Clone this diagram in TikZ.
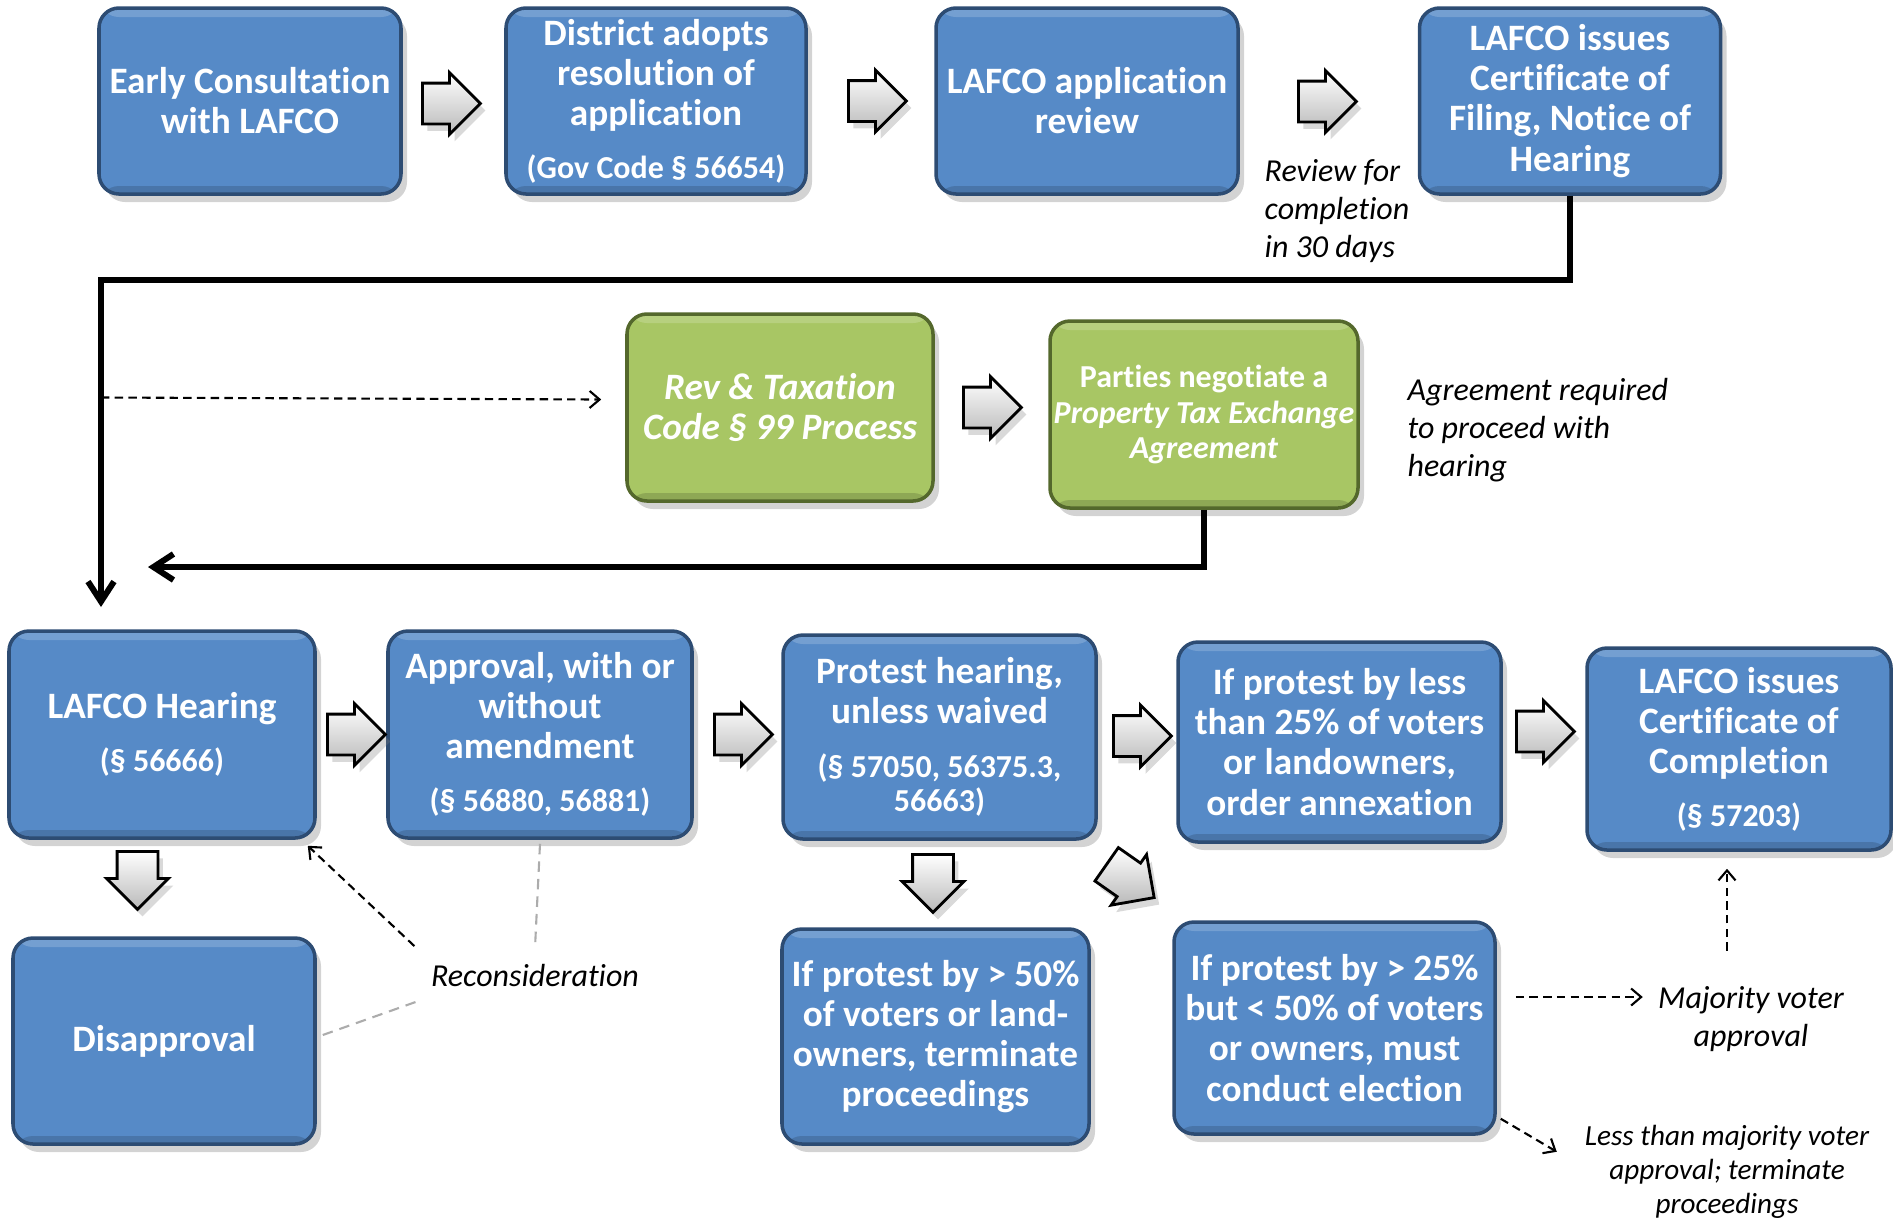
\documentclass[tikz,border=0pt]{standalone}
\usepackage{fontspec}
\setmainfont{Carlito}[Ligatures=NoCommon]
\usetikzlibrary{shapes.arrows, arrows.meta, positioning, calc, shadows}

\definecolor{boxblue}{RGB}{86,138,199}
\definecolor{boxedge}{RGB}{45,76,115}
\definecolor{boxgreen}{RGB}{168,198,100}
\definecolor{greenedge}{RGB}{84,104,44}

\newcommand{\secref}[1]{{\fontsize{9.1}{11.4}\selectfont #1}}

\begin{document}
\begin{tikzpicture}[
    state/.style={rectangle, draw=boxedge, line width=1pt, fill=boxblue, text=white, align=center, rounded corners=0.2cm, minimum width=3.02cm, minimum height=1.86cm, inner sep=1pt, font=\bfseries\fontsize{10.6}{11.4}\selectfont, drop shadow={opacity=0.35, shadow xshift=0.6mm, shadow yshift=-0.8mm},
        path picture={\fill[white, opacity=0.18] ([yshift=-0.09cm]path picture bounding box.north west) rectangle (path picture bounding box.north east);
                      \fill[black, opacity=0.15] (path picture bounding box.south west) rectangle ([yshift=0.08cm]path picture bounding box.south east);}},
    taxstate/.style={state, draw=greenedge, fill=boxgreen, minimum width=3.07cm, minimum height=1.87cm},
    blockarrow/.style={single arrow, anchor=tail, draw=black, line width=0.8pt, top color=white, bottom color=gray!55, minimum height=0.58cm, minimum width=1pt, single arrow head extend=0.105cm, inner xsep=0pt, inner ysep=0.19cm, drop shadow={opacity=0.3, shadow xshift=0.5mm, shadow yshift=-0.7mm}},
    flow/.style={line width=1.7pt, -{Straight Barb[length=0.2cm, width=0.26cm]}},
    dasharrow/.style={line width=0.6pt, dash pattern=on 2.4pt off 1.5pt, -{Straight Barb[length=0.1cm, width=0.17cm]}},
    graydash/.style={line width=0.6pt, gray!65, dash pattern=on 3pt off 2pt},
    note/.style={font=\itshape\fontsize{9.1}{10.8}\selectfont, align=left, inner sep=0pt}
]
\useasboundingbox (0,0) rectangle (18.93,-12.20);

% States
\node[state] (early_consult) at (2.50,-1.01) {Early Consultation\\with LAFCO};
\node[state, minimum width=3.00cm] (district_res) at (6.56,-1.01) {District adopts\\resolution of\\application\\[0.13cm]\secref{(Gov Code § 56654)}};
\node[state] (app_review) at (10.87,-1.01) {LAFCO application\\review};
\node[state, minimum width=3.01cm] (cert_filing) at (15.70,-1.01) {LAFCO issues\\Certificate of\\Filing, Notice of\\Hearing};

\node[taxstate, minimum width=3.06cm, font=\bfseries\itshape\fontsize{10.6}{11.4}\selectfont] (rev_tax) at (7.80,-4.075) {Rev \& Taxation\\Code § 99 Process};
\node[taxstate, minimum width=3.08cm, font=\bfseries\fontsize{9.1}{10}\selectfont] (tax_agree) at (12.04,-4.145) {Parties negotiate a\\\textit{Property Tax Exchange}\\\textit{Agreement}};

\node[state, minimum width=3.06cm, minimum height=2.07cm] (hearing) at (1.62,-7.345) {LAFCO Hearing\\[0.13cm]\secref{(§ 56666)}};
\node[state, minimum width=3.04cm, minimum height=2.07cm] (approval) at (5.40,-7.345) {Approval, with or\\without\\amendment\\[0.13cm]\secref{(§ 56880, 56881)}};
\node[state, minimum width=3.13cm, minimum height=2.04cm] (protest) at (9.395,-7.37) {Protest hearing,\\unless waived\\[0.14cm]\secref{(§ 57050, 56375.3,}\\[-0.06cm]\secref{56663)}};
\node[state, minimum width=3.23cm, minimum height=2.00cm] (order_annex) at (13.395,-7.42) {If protest by less\\than 25\% of voters\\or landowners,\\order annexation};
\node[state, minimum width=3.04cm, minimum height=2.02cm] (cert_complete) at (17.39,-7.49) {LAFCO issues\\Certificate of\\Completion\\[0.13cm]\secref{(§ 57203)}};

\node[state, minimum width=3.02cm, minimum height=2.06cm] (disapproval) at (1.64,-10.41) {Disapproval};
\node[state, minimum width=3.07cm, minimum height=2.15cm] (terminate) at (9.355,-10.365) {If protest by > 50\%\\of voters or land-\\owners, terminate\\proceedings};
\node[state, minimum width=3.21cm, minimum height=2.12cm] (election) at (13.345,-10.28) {If protest by > 25\%\\but < 50\% of voters\\or owners, must\\conduct election};

% Notes
\node[note, anchor=west] (review_note) at (12.64,-2.11) {Review for\\completion\\in 30 days};
\node[note, anchor=west] (agree_note) at (14.07,-4.30) {Agreement required\\to proceed with\\hearing};
\node[note] (recon_note) at (5.35,-9.75) {Reconsideration};
\node[note, align=center] (majority_note) at (17.51,-10.19) {Majority voter\\approval};
\node[note, align=center, font=\itshape\fontsize{8.3}{9.7}\selectfont] (less_note) at (17.27,-11.72) {Less than majority voter\\approval; terminate\\proceedings};

% Block arrows
\node[blockarrow] (arr_a) at (4.21,-1.035) {};
\node[blockarrow] (arr_b) at (8.47,-1.01) {};
\node[blockarrow] (arr_c) at (12.97,-1.015) {};
\node[blockarrow] (arr_d) at (9.62,-4.075) {};
\node[blockarrow] (arr_e) at (3.26,-7.345) {};
\node[blockarrow] (arr_f) at (7.13,-7.345) {};
\node[blockarrow] (arr_g) at (11.12,-7.36) {};
\node[blockarrow] (arr_h) at (15.15,-7.315) {};
\node[blockarrow, rotate=-90] (arr_i) at (1.375,-8.50) {};
\node[blockarrow, rotate=-90] (arr_j) at (9.33,-8.53) {};
\node[blockarrow, rotate=-35] (arr_k) at (11.055,-8.635) {};

% Flow
\coordinate (bend) at (1.01,-2.80);
\coordinate (hearing_in) at (1.01,-6.07);
\coordinate (return_end) at (1.48,-5.67);
\draw[flow] (cert_filing.south) |- (bend) -- (hearing_in);
\draw[dasharrow] ([yshift=0.1cm]bend |- rev_tax.west) -- ([shift={(-0.24,0.08)}]rev_tax.west);
\draw[flow] (tax_agree.south) |- (return_end);

\draw[dasharrow] ([shift={(-0.16,0.17)}]recon_note.north west) -- ([shift={(-0.09,-0.06)}]hearing.south east);
\draw[graydash] ([yshift=-0.04cm]approval.south) -- ([yshift=0.15cm]recon_note.north);
\draw[graydash] ([shift={(0.06,0.06)}]disapproval.east) -- ([shift={(-0.09,-0.13)}]recon_note.south west);
\draw[dasharrow] ([xshift=-0.12cm, yshift=-0.99cm]cert_complete.south) -- ([xshift=-0.12cm, yshift=-0.17cm]cert_complete.south);
\draw[dasharrow] ([shift={(0.19,0.31)}]election.east) -- ++(1.27,0);
\draw[dasharrow] ([shift={(0.04,0.17)}]election.south east) -- ++(0.56,-0.33);

\end{tikzpicture}
\end{document}
